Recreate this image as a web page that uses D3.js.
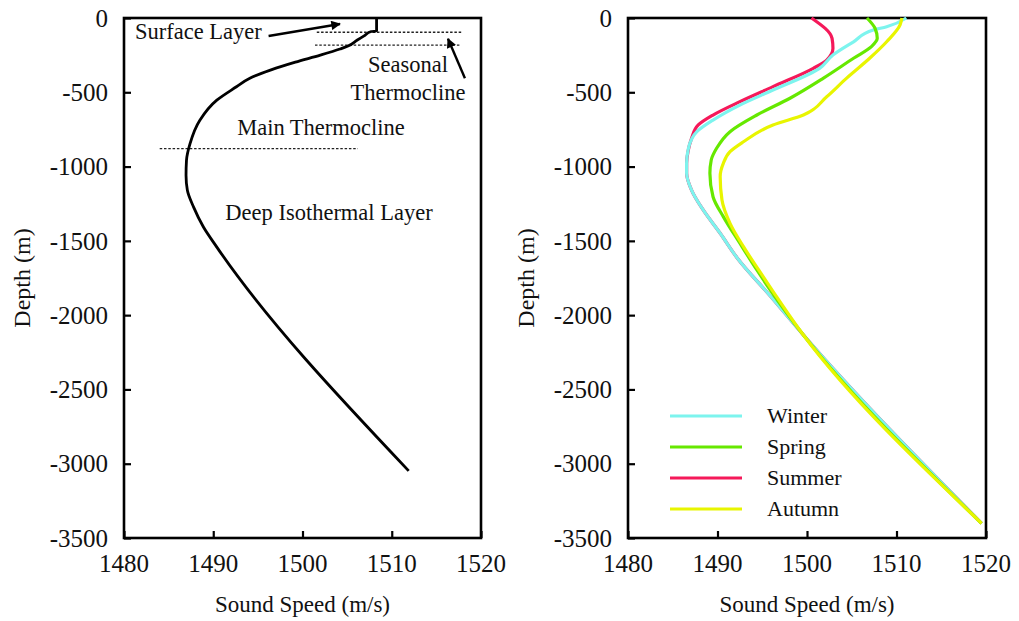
<!DOCTYPE html>
<html>
<head>
<meta charset="utf-8">
<script src="https://cdn.jsdelivr.net/npm/d3@7"></script>
<style>
  html, body { margin: 0; padding: 0; background: #fff; }
  svg { display: block; }
  text { font-family: "Liberation Serif", "Times New Roman", serif; fill: #111; }
</style>
</head>
<body>
<svg id="chart" width="1019" height="621"></svg>
<script>
// ---------- data ----------
const xTicks = [1480, 1490, 1500, 1510, 1520];
const yTicks = [0, -500, -1000, -1500, -2000, -2500, -3000, -3500];

// Left panel: typical profile
const leftDepth = [0, -88, -91, -120, -150, -189, -209, -250, -297, -351, -405, -463, -553, -688, -845, -958, -1059, -1160, -1273, -1407, -1542, -3048];
const leftSpeed = [1508.3, 1508.3, 1507.7, 1506.9, 1506.1, 1505.1, 1504.2, 1502.0, 1499.2, 1496.4, 1494.1, 1492.6, 1490.4, 1488.5, 1487.4, 1487.0, 1486.95, 1487.1, 1487.8, 1488.9, 1490.4, 1511.9];

// Right panel: seasonal profiles
const seasons = ["Summer", "Winter", "Spring", "Autumn"];
const summerDepth = [0, -137, -204, -283, -339, -462, -563, -653, -720, -810, -900, -978, -1045, -1158, -1292, -1449, -1615, -1871, -2134, -3401];
const summerSpeed = [1500.5, 1502.8, 1502.9, 1502.2, 1500.7, 1496.2, 1492.5, 1489.5, 1487.85, 1487.1, 1486.7, 1486.55, 1486.55, 1487.1, 1488.4, 1490.3, 1492.2, 1495.9, 1499.6, 1519.5];
const winterDepth = [0, -59, -81, -160, -249, -339, -485, -586, -687, -765, -877, -978, -1045, -1158, -1292, -1449, -1615, -1871, -2134, -3401];
const winterSpeed = [1511.1, 1508.9, 1507.4, 1505.2, 1502.9, 1501.4, 1496.2, 1492.5, 1489.5, 1487.7, 1486.75, 1486.55, 1486.55, 1487.1, 1488.4, 1490.3, 1492.2, 1495.9, 1499.6, 1519.5];
const springDepth = [0, -69, -137, -193, -271, -406, -540, -653, -765, -877, -956, -1045, -1203, -1337, -1516, -1696, -1831, -2134, -3401];
const springSpeed = [1506.7, 1507.6, 1507.85, 1507.2, 1505.2, 1501.8, 1498.1, 1494.4, 1491.4, 1489.9, 1489.3, 1489.15, 1489.5, 1490.65, 1492.5, 1494.4, 1495.9, 1499.6, 1519.5];
const autumnDepth = [0, -47, -160, -271, -406, -530, -653, -720, -833, -900, -978, -1068, -1225, -1382, -1539, -1696, -1831, -2134, -3401];
const autumnSpeed = [1510.6, 1510.4, 1508.9, 1507.0, 1504.4, 1502.2, 1499.6, 1496.2, 1492.9, 1491.4, 1490.65, 1490.3, 1490.5, 1491.4, 1492.9, 1494.6, 1496.1, 1499.6, 1519.5];
const seasonColors = { Winter: "#7df4ee", Spring: "#66e800", Summer: "#f5195a", Autumn: "#e8f500" };
const legendOrder = ["Winter", "Spring", "Summer", "Autumn"];

// annotation layer boundaries (left panel), depth & speed extents
const boundaryDepth = [-96, -182, -879];
const boundaryFrom  = [1501.6, 1501.4, 1484.0];
const boundaryTo    = [1517.8, 1517.6, 1506.2];

// ---------- layout ----------
const svg = d3.select("#chart");
const yTop = 18, yBottom = 538;
const panels = [
  { x0: 124, x1: 481 },
  { x0: 628, x1: 986 }
];
const y = d3.scaleLinear().domain([0, -3500]).range([yTop, yBottom]);

const defs = svg.append("defs");
defs.append("marker").attr("id", "arrow").attr("viewBox", "0 0 10 10")
  .attr("refX", 9).attr("refY", 5).attr("markerWidth", 5).attr("markerHeight", 4)
  .attr("markerUnits", "strokeWidth").attr("orient", "auto")
  .append("path").attr("d", "M0,0 L10,5 L0,10 z").attr("fill", "#000");

function drawFrame(p) {
  const x = d3.scaleLinear().domain([1480, 1520]).range([p.x0, p.x1]);
  const g = svg.append("g");
  const ya = d3.axisRight(y).tickValues(yTicks).tickSize(7).tickFormat("");
  g.append("g").attr("transform", `translate(${p.x0},0)`).call(ya)
    .call(s => s.select(".domain").remove())
    .call(s => s.selectAll("line").attr("stroke", "#000").attr("stroke-width", 2.2));
  g.append("g").selectAll("text").data(yTicks).join("text")
    .attr("x", p.x0 - 16).attr("y", d => y(d)).attr("dy", "0.35em")
    .attr("text-anchor", "end").attr("font-size", 25)
    .text(d => String(d));
  const xa = d3.axisTop(x).tickValues(xTicks).tickSize(7).tickFormat("");
  g.append("g").attr("transform", `translate(0,${yBottom})`).call(xa)
    .call(s => s.select(".domain").remove())
    .call(s => s.selectAll("line").attr("stroke", "#000").attr("stroke-width", 2.2));
  g.append("g").selectAll("text").data(xTicks).join("text")
    .attr("x", d => x(d)).attr("y", yBottom + 34)
    .attr("text-anchor", "middle").attr("font-size", 25)
    .text(d => d);
  g.append("rect").attr("x", p.x0).attr("y", yTop).attr("width", p.x1 - p.x0).attr("height", yBottom - yTop)
    .attr("fill", "none").attr("stroke", "#000").attr("stroke-width", 2.6);
  g.append("text").attr("x", (p.x0 + p.x1) / 2).attr("y", 612)
    .attr("text-anchor", "middle").attr("font-size", 23).text("Sound Speed (m/s)");
  g.append("text").attr("transform", `translate(${p.x0 - 94},${(yTop + yBottom) / 2}) rotate(-90)`)
    .attr("text-anchor", "middle").attr("font-size", 24).text("Depth (m)");
  return x;
}

// ---------- left panel ----------
const xL = drawFrame(panels[0]);
const lineL = d3.line().x(d => xL(d[0])).y(d => y(d[1])).curve(d3.curveMonotoneY);
const leftPts = leftSpeed.map((s, i) => [s, leftDepth[i]]);

const ann = svg.append("g");
ann.selectAll("line.bnd").data(boundaryDepth).join("line")
  .attr("class", "bnd")
  .attr("x1", (d, i) => xL(boundaryFrom[i])).attr("x2", (d, i) => xL(boundaryTo[i]))
  .attr("y1", d => y(d)).attr("y2", d => y(d))
  .attr("stroke", "#222").attr("stroke-width", 1.3).attr("stroke-dasharray", "2.5,1.8");

svg.append("path").datum(leftPts).attr("d", lineL)
  .attr("fill", "none").attr("stroke", "#000").attr("stroke-width", 2.8).attr("stroke-linejoin", "round");

ann.append("line").attr("x1", xL(1496.2)).attr("y1", y(-121)).attr("x2", xL(1504.2)).attr("y2", y(-40))
  .attr("stroke", "#000").attr("stroke-width", 2.4).attr("marker-end", "url(#arrow)");
ann.append("line").attr("x1", xL(1518.2)).attr("y1", y(-405)).attr("x2", xL(1516.3)).attr("y2", y(-140))
  .attr("stroke", "#000").attr("stroke-width", 2.4).attr("marker-end", "url(#arrow)");

const annText = [
  { t: "Surface Layer", x: 135, y: 39, a: "start" },
  { t: "Seasonal", x: 408, y: 72, a: "middle" },
  { t: "Thermocline", x: 408, y: 100, a: "middle" },
  { t: "Main Thermocline", x: 321, y: 135, a: "middle" },
  { t: "Deep Isothermal Layer", x: 329, y: 220, a: "middle" }
];
ann.selectAll("text.ann").data(annText).join("text").attr("class", "ann")
  .attr("x", d => d.x).attr("y", d => d.y).attr("text-anchor", d => d.a)
  .attr("font-size", 22.5).text(d => d.t);

// ---------- right panel ----------
const xR = drawFrame(panels[1]);
const lineR = d3.line().x(d => xR(d[0])).y(d => y(d[1])).curve(d3.curveMonotoneY);
const seasonData = {
  Summer: summerSpeed.map((s, i) => [s, summerDepth[i]]),
  Winter: winterSpeed.map((s, i) => [s, winterDepth[i]]),
  Spring: springSpeed.map((s, i) => [s, springDepth[i]]),
  Autumn: autumnSpeed.map((s, i) => [s, autumnDepth[i]])
};
svg.append("g").selectAll("path").data(seasons).join("path")
  .attr("d", s => lineR(seasonData[s]))
  .attr("fill", "none").attr("stroke", s => seasonColors[s]).attr("stroke-width", 3.2)
  .attr("stroke-linejoin", "round");

const lg = svg.append("g");
const legY = d3.scalePoint().domain(legendOrder).range([416, 509]);
lg.selectAll("line").data(legendOrder).join("line")
  .attr("x1", 670).attr("x2", 742).attr("y1", d => legY(d)).attr("y2", d => legY(d))
  .attr("stroke", d => seasonColors[d]).attr("stroke-width", 3.2);
lg.selectAll("text").data(legendOrder).join("text")
  .attr("x", 767).attr("y", d => legY(d)).attr("dy", "0.33em")
  .attr("font-size", 22).text(d => d);
</script>
</body>
</html>
